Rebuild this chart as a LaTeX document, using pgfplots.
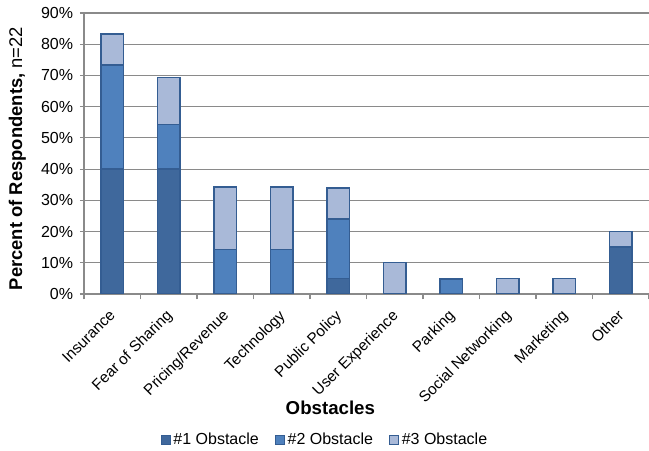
\documentclass[border=0pt]{standalone}
\usepackage{pgfplots}
\pgfplotsset{compat=1.18}
\usepackage{fontspec}
\setmainfont{Liberation Sans}
\definecolor{cone}{HTML}{3F689C}
\definecolor{ctwo}{HTML}{4F81BD}
\definecolor{cthree}{HTML}{A9B9D8}
\definecolor{cedge}{HTML}{345D92}
\definecolor{cgrid}{HTML}{8A8A8A}
\begin{document}
\fontsize{12}{14}\selectfont
\begin{tikzpicture}
\begin{axis}[
  name=ax,
  scale only axis,
  width=423.75pt, height=210.75pt,
  xmin=-0.5, xmax=9.5,
  ymin=0, ymax=90,
  ybar stacked,
  bar width=17pt,
  axis x line*=bottom, axis y line*=left,
  axis line style={cgrid, line width=0.9pt, -},
  xtick={0,...,9},
  xticklabels={Insurance,Fear of Sharing,Pricing/Revenue,Technology,Public Policy,User Experience,Parking,Social Networking,Marketing,Other},
  x tick label style={rotate=45, anchor=north east, font=\fontsize{11.5}{13}\selectfont, inner sep=1pt, xshift=-6.5pt, yshift=-2.5pt},
  major x tick style={draw=none},
  minor xtick={-0.5,0.5,...,9.5},
  minor x tick style={cgrid, line width=0.9pt},
  tick align=outside,
  minor tick length=4pt,
  major tick length=3pt,
  ytick={0,10,...,90},
  yticklabels={0\%,10\%,20\%,30\%,40\%,50\%,60\%,70\%,80\%,90\%},
  y tick label style={font=\fontsize{12}{14}\selectfont, xshift=-1pt},
  y tick style={cgrid, line width=0.9pt},
  ymajorgrids,
  major grid style={cgrid, line width=0.9pt},
  xlabel={\textbf{Obstacles}},
  xlabel style={at={(axis description cs:0.436,-0.405)}, anchor=center, font=\fontsize{14}{16}\selectfont},
  ylabel={\textbf{Percent of Respondents,} n=22},
  ylabel style={at={(axis description cs:-0.118,0.482)}, anchor=center, font=\fontsize{13.8}{16}\selectfont},
  legend columns=3,
  legend style={draw=none, at={(axis description cs:0.427,-0.52)}, anchor=center, font=\fontsize{12}{14}\selectfont, /tikz/every even column/.append style={column sep=10pt}},
  legend image code/.code={\draw[#1, line width=0.6pt] (0pt,-3.5pt) rectangle (7pt,3.5pt);},
]
\addplot[fill=cone, draw=cedge, line width=1pt] coordinates {(0,40) (1,40) (2,0) (3,0) (4,5) (5,0) (6,0) (7,0) (8,0) (9,15)};
\addplot[fill=ctwo, draw=cedge, line width=1pt] coordinates {(0,33.3) (1,14.3) (2,14.3) (3,14.3) (4,19) (5,0) (6,4.8) (7,0) (8,0) (9,0)};
\addplot[fill=cthree, draw=cedge, line width=1pt] coordinates {(0,10) (1,15) (2,20) (3,20) (4,10) (5,10) (6,0) (7,5) (8,5) (9,5)};
\legend{\#1 Obstacle,\#2 Obstacle,\#3 Obstacle}
\end{axis}
\pgfresetboundingbox
\path[use as bounding box] ([xshift=-63pt,yshift=-117.75pt]ax.south west) rectangle ([xshift=0pt,yshift=9.75pt]ax.north east);
\end{tikzpicture}
\end{document}
